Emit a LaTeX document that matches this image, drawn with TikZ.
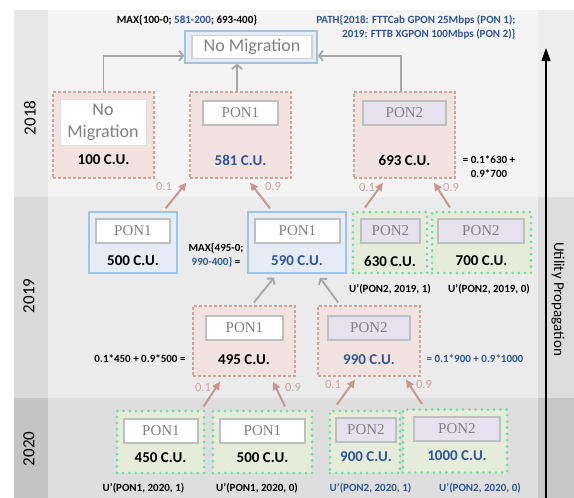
\documentclass[tikz,border=0pt]{standalone}
\usepackage{fontspec}
\setmainfont{Carlito}
\newfontfamily\ponfont{Liberation Serif}
\usetikzlibrary{arrows.meta,calc}
\definecolor{bgA}{HTML}{F4F4F4}
\definecolor{bgAl}{HTML}{E8E8E8}
\definecolor{bgAr}{HTML}{EDEDED}
\definecolor{bgB}{HTML}{EBEBEB}
\definecolor{bgBl}{HTML}{D9D9D9}
\definecolor{bgBr}{HTML}{DCDCDC}
\definecolor{bgC}{HTML}{DEDEDE}
\definecolor{bgCl}{HTML}{C4C4C4}
\definecolor{bgCr}{HTML}{C8C8C8}
\definecolor{dashc}{HTML}{D2A29D}
\definecolor{dashfill}{HTML}{F2E3E0}
\definecolor{bluec}{HTML}{9DC3E6}
\definecolor{bluefill}{HTML}{E5ECF5}
\definecolor{greenc}{HTML}{72DDA0}
\definecolor{greenfill}{HTML}{E6ECDA}
\definecolor{innerc}{HTML}{BFBFBF}
\definecolor{lav}{HTML}{E6E1EE}
\definecolor{txtgrey}{HTML}{808080}
\definecolor{tblue}{HTML}{2F5597}
\definecolor{pinkar}{HTML}{C9958E}
\definecolor{pinklab}{HTML}{CFA39D}
\definecolor{greyar}{HTML}{A6A6A6}
\begin{document}
\begin{tikzpicture}[x=1pt,y=-1pt,
  dbox/.style={draw=dashc, fill=dashfill, dash pattern=on 3pt off 2pt, line width=1.3pt, inner sep=0pt},
  bbox/.style={draw=bluec, fill=bluefill, line width=1.5pt, inner sep=0pt},
  gbox/.style={draw=greenc, fill=greenfill, line width=3pt, dash pattern=on 0pt off 6.2pt, line cap=round, inner sep=0pt},
  ibox/.style={draw=innerc, fill=white, line width=1.8pt, inner sep=0pt, minimum height=24pt, text=txtgrey, font=\ponfont\fontsize{15}{15}\selectfont},
  ilav/.style={ibox, fill=lav},
  val/.style={font=\bfseries\fontsize{15}{15}\selectfont},
  lab/.style={font=\bfseries\fontsize{11}{14}\selectfont},
  plab/.style={text=pinklab, font=\fontsize{12.5}{12.5}\selectfont},
  parrow/.style={draw=pinkar, line width=2pt, -{Triangle[length=8pt,width=7.5pt]}},
  garrow/.style={draw=greyar, line width=1.8pt, -{Straight Barb[length=4pt,width=10pt]}},
  year/.style={rotate=90, font=\fontsize{17}{17}\selectfont}
]
\useasboundingbox (0,0) rectangle (574,498);
% background bands
\fill[bgA] (48,10) rectangle (538,197);
\fill[bgAl] (14,10) rectangle (48,197);
\fill[bgAr] (538,10) rectangle (574,197);
\fill[bgB] (48,197) rectangle (538,398);
\fill[bgBl] (14,197) rectangle (48,398);
\fill[bgBr] (538,197) rectangle (574,398);
\fill[bgC] (48,398) rectangle (538,498);
\fill[bgCl] (14,398) rectangle (48,498);
\fill[bgCr] (538,398) rectangle (574,498);

\node[year] (y18) at (30,118) {2018};
\node[year] (y19) at (29,296) {2019};
\node[year] (y20) at (29,449) {2020};

% utility propagation arrow
\coordinate (ua) at (546,498);
\coordinate (ub) at (546,48);
\draw[line width=1.2pt, -{Triangle[length=13pt,width=9pt]}] (ua) -- (ub);
\node[rotate=-90, font=\fontsize{15}{15}\selectfont] (up) at (558,299) {Utility Propagation};

% top
\node[lab] (maxtop) at (187,20) {MAX\{100-0; \textcolor{tblue}{581-200}; 693-400\}};
\node[lab, text=tblue, align=right, anchor=east] (path) at (519,27) {PATH\{2018: FTTCab GPON 25Mbps (PON 1);\\2019: FTTB XGPON 100Mbps (PON 2)\}};
\node[draw=bluec, fill=bluefill, line width=1.5pt, minimum width=132pt, minimum height=32pt, inner sep=0pt] (T) at (251,47) {};
\node[draw=innerc!70, fill=white, line width=1.8pt, minimum width=120pt, minimum height=23pt, inner sep=0pt, text=txtgrey, font=\fontsize{18}{18}\selectfont] (Ti) at (252,47) {No Migration};

% 2018 row
\node[dbox, minimum width=101pt, minimum height=86pt] (A) at (103.5,135) {};
\node[draw=innerc!50, fill=white, line width=1pt, minimum width=86pt, minimum height=46pt, inner sep=0pt, text=txtgrey, align=center, font=\fontsize{18}{22}\selectfont] (Ai) at (103,122) {No\\Migration};
\node[val] (Av) at (103.5,160) {100 C.U.};

\node[dbox, minimum width=101pt, minimum height=86pt] (B) at (240.5,135) {};
\node[ibox, minimum width=75pt] (Bi) at (240.5,113) {PON1};
\node[val, text=tblue] (Bv) at (240.5,160) {581 C.U.};

\node[dbox, minimum width=101pt, minimum height=86pt] (C) at (404.5,135) {};
\node[ilav, minimum width=83pt] (Ci) at (404.5,113) {PON2};
\node[val] (Cv) at (404.5,160) {693 C.U.};
\node[lab, align=center] (Cf) at (489,167) {= 0.1*630 +\\0.9*700};

% 2019 upper row
\node[bbox, minimum width=88pt, minimum height=61pt] (D) at (133,242.5) {};
\node[ibox, minimum width=74pt] (Di) at (133,231) {PON1};
\node[val] (Dv) at (133,261) {500 C.U.};

\node[lab, align=center] (maxmid) at (216,255) {MAX\{495-0;\\\textcolor{tblue}{990-400\}} =};

\node[bbox, minimum width=98pt, minimum height=61pt] (E) at (297,242.5) {};
\node[ibox, minimum width=85pt] (Ei) at (297.5,231) {PON1};
\node[val, text=tblue] (Ev) at (297,261) {590 C.U.};

\node[gbox, minimum width=74pt, minimum height=61pt] (F) at (390,242.5) {};
\node[ilav, minimum width=59pt] (Fi) at (390.5,231) {PON2};
\node[val] (Fv) at (390,261) {630 C.U.};

\node[gbox, minimum width=99pt, minimum height=61pt] (G) at (481.5,242.5) {};
\node[ilav, minimum width=86pt] (Gi) at (481,231) {PON2};
\node[val] (Gv) at (481.5,261) {700 C.U.};

\node[lab] (uF) at (390,289) {U'(PON2, 2019, 1)};
\node[lab] (uG) at (489,289) {U'(PON2, 2019, 0)};

% 2019 lower row
\node[dbox, minimum width=102pt, minimum height=70pt] (H) at (244,341) {};
\node[ibox, minimum width=77pt] (Hi) at (244.5,328) {PON1};
\node[val] (Hv) at (244,360) {495 C.U.};
\node[lab] (Hf) at (140,359) {0.1*450 + 0.9*500 =};

\node[dbox, minimum width=102pt, minimum height=70pt] (I) at (369,341) {};
\node[ilav, minimum width=82pt] (Ii) at (369,328) {PON2};
\node[val, text=tblue] (Iv) at (369,360) {990 C.U.};
\node[lab, text=tblue] (If) at (475,359) {= 0.1*900 + 0.9*1000};

% 2020 row
\node[gbox, minimum width=87pt, minimum height=62pt] (J) at (160.5,442) {};
\node[ibox, minimum width=74pt] (Ji) at (161,431) {PON1};
\node[val] (Jv) at (160.5,458) {450 C.U.};

\node[gbox, minimum width=99pt, minimum height=62pt] (K) at (262.5,442) {};
\node[ibox, minimum width=85pt] (Ki) at (262.5,431) {PON1};
\node[val] (Kv) at (262.5,458) {500 C.U.};

\node[gbox, minimum width=70pt, minimum height=62pt] (L) at (365,442) {};
\node[ilav, minimum width=60pt] (Li) at (366,430) {PON2};
\node[val, text=tblue] (Lv) at (366,457) {900 C.U.};

\node[gbox, minimum width=104pt, minimum height=63pt] (M) at (455,441) {};
\node[ilav, minimum width=86pt] (Mi) at (457,429) {PON2};
\node[val, text=tblue] (Mv) at (457,456) {1000 C.U.};

\node[lab] (uJ) at (143.5,488) {U'(PON1, 2020, 1)};
\node[lab] (uK) at (257,488) {U'(PON1, 2020, 0)};
\node[lab, text=tblue] (uL) at (370.5,488) {U'(PON2, 2020, 1)};
\node[lab, text=tblue] (uM) at (480,488) {U'(PON2, 2020, 0)};

% grey arrows
\coordinate (bt) at ($(B.north)+(-3.5,0)$);
\coordinate (ct) at ($(C.north)+(-3.5,0)$);
\draw[garrow] (A.north) |- ($(T.south west)+(0,-8)$);
\draw[garrow] (bt) -- (bt |- T.south);
\draw[garrow] (ct) |- ($(T.south east)+(0,-8)$);
\draw[garrow] ($(H.north)+(10,-3)$) -- ($(E.south)+(-23,4)$);
\draw[garrow] ($(I.north)+(-31,-3)$) -- ($(E.south)+(23,4)$);

% pink arrows
\draw[parrow] ($(D.north east)+(-12,-3)$) -- ($(B.south west)+(-3,4)$);
\draw[parrow] ($(E.north)+(-27,-3)$) -- ($(B.south)+(9.5,4)$);
\draw[parrow] ($(F.north)+(-25,-3)$) -- ($(C.south)+(-21.5,4)$);
\draw[parrow] ($(G.north)+(-31.5,-3)$) -- ($(C.south)+(29.5,4)$);
\draw[parrow] ($(J.north east)+(-2,-3)$) -- ($(H.south)+(-24,5)$);
\draw[parrow] ($(K.north)+(22.5,-3)$) -- ($(H.south)+(29,5)$);
\draw[parrow] ($(L.north)+(-28,-5)$) -- ($(I.south)+(-14,3)$);
\draw[parrow] ($(M.north)+(-33,-4)$) -- ($(I.south)+(37,3)$);

\node[plab] (p1) at (164,186) {0.1};
\node[plab] (p2) at (273,186) {0.9};
\node[plab] (p3) at (367,187) {0.1};
\node[plab] (p4) at (451,187) {0.9};
\node[plab] (p5) at (203,387) {0.1};
\node[plab] (p6) at (293,387) {0.9};
\node[plab] (p7) at (333,384) {0.1};
\node[plab] (p8) at (424,384) {0.9};
\end{tikzpicture}
\end{document}
